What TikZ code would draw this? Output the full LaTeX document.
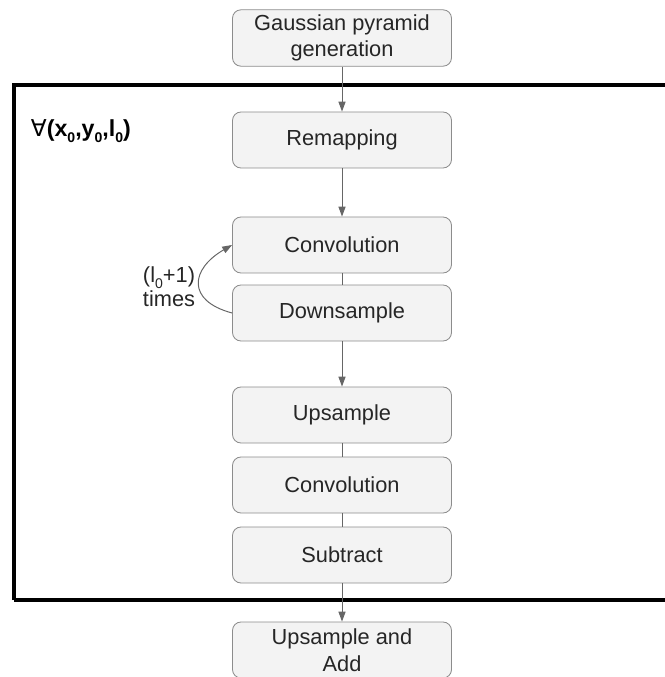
\documentclass[tikz,border=0pt]{standalone}
\usepackage{fontspec}
\setmainfont{Liberation Sans}
\newfontfamily\symfont{DejaVu Sans}
\usepackage{tikz}
\usetikzlibrary{positioning, arrows.meta}

\definecolor{boxfill}{HTML}{F3F3F3}
\definecolor{boxline}{HTML}{8C8C8C}
\definecolor{arrowgray}{HTML}{666666}
\newcommand{\lowidx}[1]{\raisebox{-0.5ex}[0pt][0pt]{\fontsize{10}{10}\selectfont #1}}

\begin{document}
\begin{tikzpicture}[
    >={Triangle[length=7pt,width=5pt]},
    stage/.style={rectangle, rounded corners=6pt, draw=boxline, fill=boxfill,
        minimum width=5.475cm, minimum height=1.4cm, align=center,
        text=black!85, font=\fontsize{15.5}{19}\selectfont, line width=0.6pt},
    flow/.style={draw=arrowgray, line width=0.7pt}
]

\useasboundingbox (0,0) rectangle (16.6,-16.925);

% loop frame, right side runs off the page
\draw[line width=2.6pt] (0.35,-15.0) -- (0.35,-2.125) -- (16.9,-2.125)
    (0.35,-15.0) -- (16.9,-15.0);
\node[anchor=west, font=\fontsize{16.5}{18}\bfseries] (forall) at (0.65,-3.25)
    {{\symfont\mdseries ∀}(x\lowidx{0},y\lowidx{0},l\lowidx{0})};

\node[stage] (gauss) at (8.55,-0.95) {Gaussian pyramid\\generation};
\node[stage] (remap) at (8.55,-3.5) {Remapping};
\node[stage] (conv1) at (8.55,-6.125) {Convolution};
\node[stage] (down) at (8.55,-7.825) {Downsample};
\node[stage] (up) at (8.55,-10.375) {Upsample};
\node[stage] (conv2) at (8.55,-12.125) {Convolution};
\node[stage] (sub) at (8.55,-13.875) {Subtract};
\node[stage] (add) at (8.55,-16.25) {Upsample and\\Add};

\draw[flow, ->] (gauss) -- (remap);
\draw[flow, ->] (remap) -- (conv1);
\draw[flow] (conv1) -- (down);
\draw[flow, ->] (down) -- (up);
\draw[flow] (up) -- (conv2);
\draw[flow] (conv2) -- (sub);
\draw[flow, ->] (sub) -- (add);

% repeat loop
\draw[flow, ->] (down.west) to[out=165, in=210, looseness=1.8] (conv1.west);
\node[anchor=east, align=center, text=black!85,
    font=\fontsize{15.5}{17}\selectfont] (times) at (5.0,-7.175)
    {(l\lowidx{0}+1)\\times};

\end{tikzpicture}
\end{document}
